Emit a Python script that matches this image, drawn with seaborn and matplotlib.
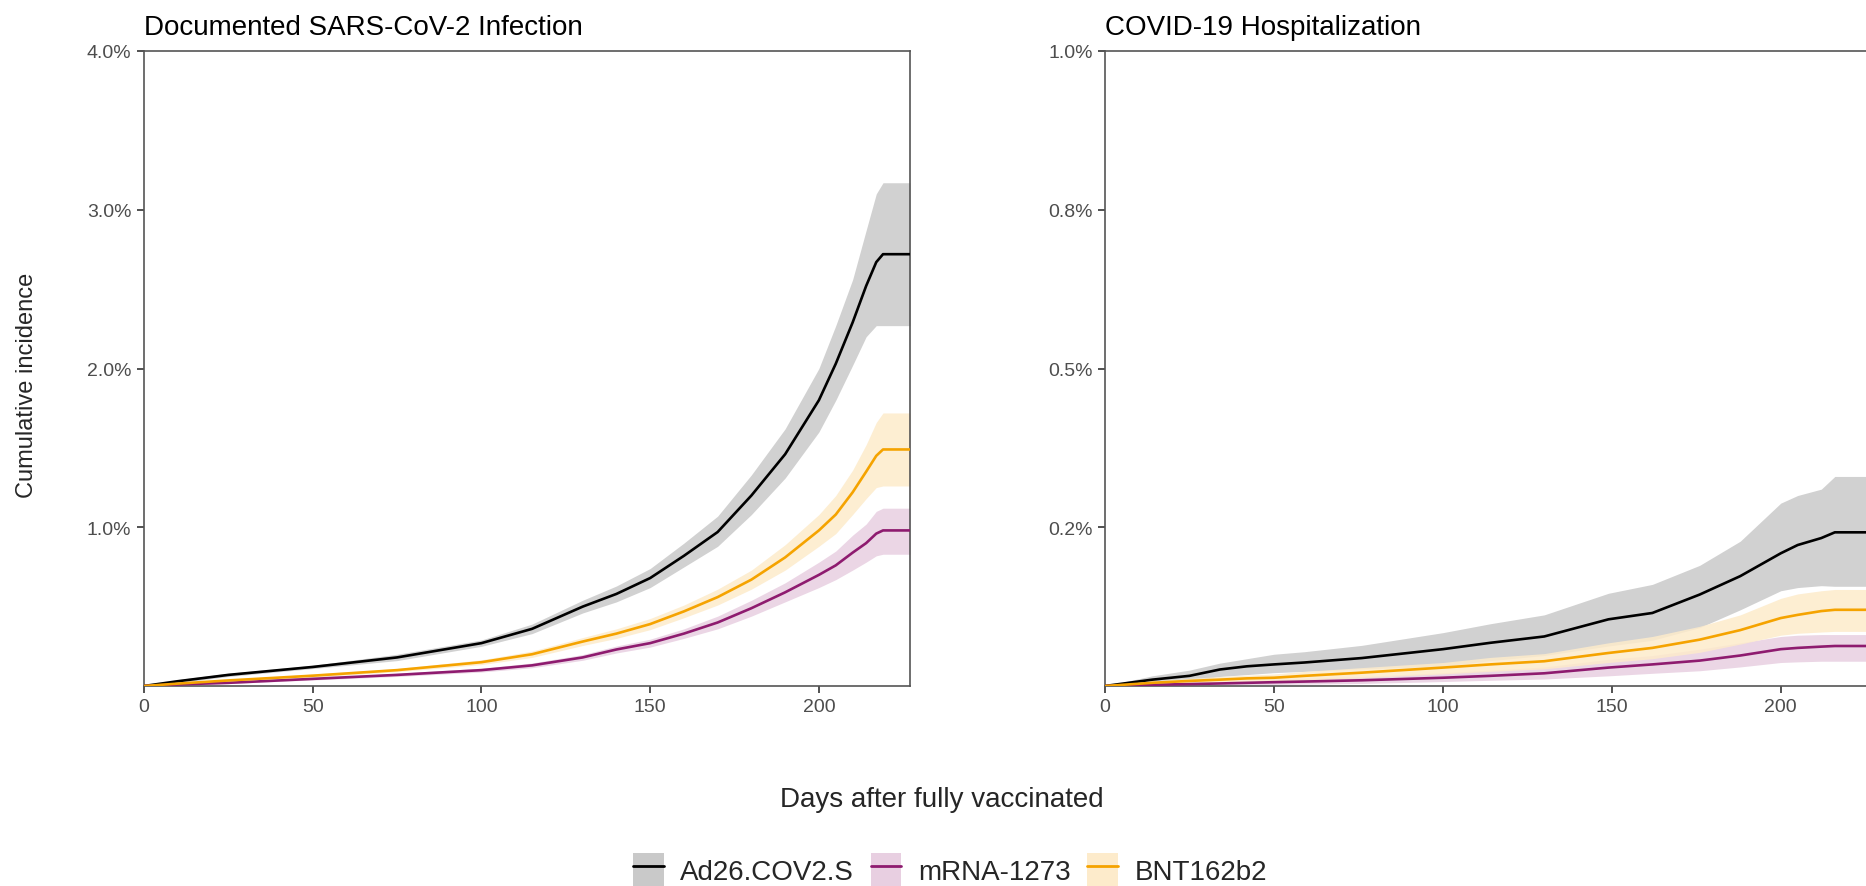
"""Cumulative incidence of infection and hospitalization by vaccine type."""

import pandas as pd
import matplotlib
matplotlib.use('Agg')
import matplotlib.pyplot as plt
import seaborn as sns
from matplotlib.patches import Patch
from matplotlib.lines import Line2D
from matplotlib.legend_handler import HandlerTuple

# ---- data (percent) ----
vaccines = ['Ad26.COV2.S', 'mRNA-1273', 'BNT162b2']

inf_days = [0, 10, 25, 50, 75, 100, 115, 130, 140, 150, 160, 170, 180, 190,
            200, 205, 210, 214, 217, 219, 227]
inf_ad26 = [0, 0.03, 0.07, 0.12, 0.18, 0.27, 0.36, 0.50, 0.58, 0.68, 0.82, 0.97,
            1.20, 1.46, 1.80, 2.03, 2.29, 2.52, 2.67, 2.72, 2.72]
inf_ad26_lo = [0, 0.02, 0.06, 0.11, 0.16, 0.25, 0.33, 0.46, 0.53, 0.62, 0.75, 0.88,
               1.08, 1.31, 1.60, 1.80, 2.02, 2.20, 2.27, 2.27, 2.27]
inf_ad26_hi = [0, 0.04, 0.08, 0.13, 0.20, 0.29, 0.39, 0.54, 0.63, 0.74, 0.90, 1.07,
               1.33, 1.62, 2.00, 2.27, 2.56, 2.87, 3.10, 3.17, 3.17]
inf_mrna = [0, 0.01, 0.02, 0.045, 0.07, 0.10, 0.13, 0.18, 0.23, 0.27, 0.33, 0.40,
            0.49, 0.59, 0.70, 0.76, 0.84, 0.90, 0.96, 0.98, 0.98]
inf_mrna_lo = [0, 0.005, 0.015, 0.038, 0.06, 0.088, 0.115, 0.162, 0.208, 0.245, 0.30,
               0.36, 0.44, 0.53, 0.62, 0.67, 0.73, 0.78, 0.82, 0.83, 0.83]
inf_mrna_hi = [0, 0.015, 0.025, 0.052, 0.08, 0.112, 0.145, 0.198, 0.252, 0.295, 0.36,
               0.44, 0.54, 0.65, 0.78, 0.85, 0.95, 1.02, 1.10, 1.12, 1.12]
inf_bnt = [0, 0.015, 0.035, 0.065, 0.10, 0.15, 0.20, 0.28, 0.33, 0.39, 0.47, 0.56,
           0.67, 0.81, 0.98, 1.08, 1.22, 1.35, 1.45, 1.49, 1.49]
inf_bnt_lo = [0, 0.01, 0.03, 0.055, 0.09, 0.135, 0.18, 0.255, 0.30, 0.355, 0.43, 0.51,
              0.61, 0.73, 0.88, 0.96, 1.08, 1.18, 1.25, 1.26, 1.26]
inf_bnt_hi = [0, 0.02, 0.04, 0.075, 0.11, 0.165, 0.22, 0.305, 0.36, 0.425, 0.51, 0.61,
              0.73, 0.89, 1.08, 1.20, 1.36, 1.52, 1.66, 1.72, 1.72]

hosp_days = [0, 14, 25, 34, 42, 50, 59, 76, 100, 114, 130, 149, 162, 176, 188,
             200, 205, 212, 216, 227]
hosp_ad26 = [0, 0.010, 0.016, 0.026, 0.031, 0.034, 0.037, 0.044, 0.058, 0.068, 0.078,
             0.105, 0.115, 0.144, 0.173, 0.209, 0.222, 0.233, 0.242, 0.242]
hosp_ad26_lo = [0, 0.004, 0.008, 0.015, 0.018, 0.021, 0.023, 0.027, 0.031, 0.040, 0.048,
                0.063, 0.072, 0.092, 0.120, 0.150, 0.155, 0.158, 0.157, 0.157]
hosp_ad26_hi = [0, 0.016, 0.025, 0.036, 0.043, 0.050, 0.054, 0.064, 0.084, 0.098, 0.112,
                0.146, 0.160, 0.190, 0.228, 0.288, 0.300, 0.310, 0.330, 0.330]
hosp_mrna = [0, 0.002, 0.003, 0.004, 0.005, 0.006, 0.007, 0.009, 0.013, 0.016, 0.020,
             0.029, 0.034, 0.040, 0.048, 0.058, 0.060, 0.062, 0.063, 0.063]
hosp_mrna_lo = [0, 0.0005, 0.001, 0.0015, 0.002, 0.0025, 0.003, 0.004, 0.007, 0.009,
                0.011, 0.016, 0.020, 0.024, 0.030, 0.037, 0.038, 0.039, 0.039, 0.039]
hosp_mrna_hi = [0, 0.004, 0.005, 0.007, 0.008, 0.010, 0.012, 0.015, 0.021, 0.025, 0.030,
                0.042, 0.048, 0.058, 0.068, 0.078, 0.080, 0.081, 0.081, 0.081]
hosp_bnt = [0, 0.005, 0.008, 0.010, 0.012, 0.013, 0.016, 0.021, 0.029, 0.034, 0.039,
            0.052, 0.060, 0.073, 0.088, 0.107, 0.112, 0.118, 0.120, 0.120]
hosp_bnt_lo = [0, 0.002, 0.004, 0.005, 0.006, 0.007, 0.009, 0.013, 0.019, 0.023, 0.027,
               0.037, 0.043, 0.053, 0.066, 0.080, 0.083, 0.085, 0.086, 0.086]
hosp_bnt_hi = [0, 0.008, 0.012, 0.015, 0.017, 0.019, 0.023, 0.029, 0.037, 0.045, 0.051,
               0.068, 0.078, 0.094, 0.112, 0.138, 0.145, 0.150, 0.152, 0.152]

inf_yticks = [1.0, 2.0, 3.0, 4.0]
inf_ylabels = ['1.0%', '2.0%', '3.0%', '4.0%']
hosp_yticks = [0.25, 0.5, 0.75, 1.0]
hosp_ylabels = ['0.2%', '0.5%', '0.8%', '1.0%']
xticks = [0, 50, 100, 150, 200]

line_colors = {'Ad26.COV2.S': '#000000', 'mRNA-1273': '#8E1B6F', 'BNT162b2': '#F5A300'}
band_colors = {'Ad26.COV2.S': '#C9C9C9', 'mRNA-1273': '#E8CFE1', 'BNT162b2': '#FDEBCB'}


def long_frame(days, est, lo, hi):
    rows = []
    for vac in vaccines:
        for d, e, l, h in zip(days, est[vac], lo[vac], hi[vac]):
            rows.append({'day': d, 'vaccine': vac, 'est': e, 'lo': l, 'hi': h})
    return pd.DataFrame(rows)


inf_df = long_frame(
    inf_days,
    {'Ad26.COV2.S': inf_ad26, 'mRNA-1273': inf_mrna, 'BNT162b2': inf_bnt},
    {'Ad26.COV2.S': inf_ad26_lo, 'mRNA-1273': inf_mrna_lo, 'BNT162b2': inf_bnt_lo},
    {'Ad26.COV2.S': inf_ad26_hi, 'mRNA-1273': inf_mrna_hi, 'BNT162b2': inf_bnt_hi},
)
hosp_df = long_frame(
    hosp_days,
    {'Ad26.COV2.S': hosp_ad26, 'mRNA-1273': hosp_mrna, 'BNT162b2': hosp_bnt},
    {'Ad26.COV2.S': hosp_ad26_lo, 'mRNA-1273': hosp_mrna_lo, 'BNT162b2': hosp_bnt_lo},
    {'Ad26.COV2.S': hosp_ad26_hi, 'mRNA-1273': hosp_mrna_hi, 'BNT162b2': hosp_bnt_hi},
)

sns.set_theme(style='white')
plt.rcParams['font.family'] = ['Liberation Sans', 'DejaVu Sans']

W, H = 1866, 887
fig = plt.figure(figsize=(W / 100, H / 100), dpi=100)
ax_top, ax_bot = 52, 687
ax1 = fig.add_axes([144 / W, (H - ax_bot) / H, 766 / W, (ax_bot - ax_top) / H])
ax2 = fig.add_axes([1105 / W, (H - ax_bot) / H, 767 / W, (ax_bot - ax_top) / H])


def draw_panel(ax, df, title, ymax, yticks, ylabels):
    for vac in vaccines:
        sub = df[df['vaccine'] == vac]
        ax.fill_between(sub['day'], sub['lo'], sub['hi'], color=band_colors[vac],
                        linewidth=0, alpha=0.85, zorder=1)
    sns.lineplot(data=df, x='day', y='est', hue='vaccine', palette=line_colors,
                 hue_order=vaccines, estimator=None, linewidth=1.9, ax=ax,
                 legend=False, zorder=3)
    ax.set_xlim(0, 227)
    ax.set_ylim(0, ymax)
    ax.set_xticks(xticks)
    ax.set_xticklabels([str(t) for t in xticks])
    ax.set_yticks(yticks)
    ax.set_yticklabels(ylabels)
    ax.set_xlabel('')
    ax.set_ylabel('')
    ax.set_title(title, loc='left', fontsize=20, color='black', pad=12)
    ax.tick_params(axis='both', which='major', direction='out', length=5, width=1.2,
                   color='#333333', labelcolor='#4D4D4D', labelsize=14, pad=4,
                   bottom=True, left=True)
    for side in ['left', 'bottom', 'top', 'right']:
        ax.spines[side].set_visible(True)
        ax.spines[side].set_color('#555555')
        ax.spines[side].set_linewidth(1.2)


draw_panel(ax1, inf_df, 'Documented SARS-CoV-2 Infection', 4.0, inf_yticks, inf_ylabels)
draw_panel(ax2, hosp_df, 'COVID-19 Hospitalization', 1.0, hosp_yticks, hosp_ylabels)

fig.text(27 / W, 1 - 385 / H, 'Cumulative incidence', rotation=90, ha='center',
         va='center', fontsize=17)
fig.text(942 / W, 1 - 800 / H, 'Days after fully vaccinated', ha='center',
         va='center', fontsize=20)

handles = [(Patch(facecolor=band_colors[v], edgecolor='none'),
            Line2D([0], [0], color=line_colors[v], linewidth=2)) for v in vaccines]
fig.legend(handles, vaccines, handler_map={tuple: HandlerTuple(ndivide=1, pad=0)},
           loc='center', bbox_to_anchor=(950 / W, 1 - 871 / H), ncol=3,
           frameon=False, fontsize=20, handlelength=1.1, handleheight=1.5,
           columnspacing=0.6, handletextpad=0.6)

fig.savefig('out.png', dpi=100)
